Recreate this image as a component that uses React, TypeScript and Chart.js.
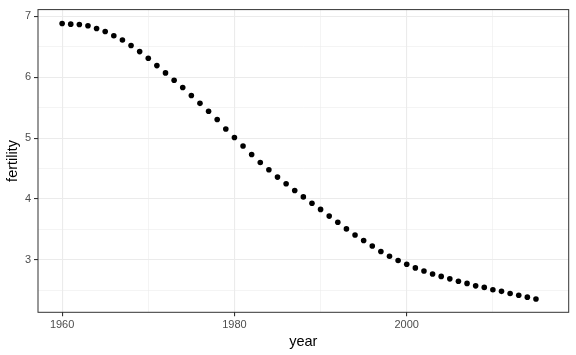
import React, { useEffect, useRef } from "react";
import { Chart, registerables } from "chart.js";

Chart.register(...registerables);

const years: number[] = [];
for (let y = 1960; y <= 2015; y++) years.push(y);

const fertility: number[] = [
  6.88, 6.87, 6.865, 6.845, 6.80, 6.75, 6.68, 6.61, 6.52, 6.42,
  6.31, 6.19, 6.07, 5.95, 5.83, 5.70, 5.57, 5.44, 5.305, 5.15,
  5.01, 4.87, 4.73, 4.60, 4.48, 4.36, 4.25, 4.14, 4.035, 3.93,
  3.83, 3.72, 3.62, 3.51, 3.41, 3.32, 3.23, 3.14, 3.06, 2.99,
  2.93, 2.87, 2.82, 2.77, 2.73, 2.69, 2.65, 2.615, 2.575, 2.55,
  2.51, 2.485, 2.45, 2.42, 2.39, 2.36,
];

const xTicks: number[] = [1960, 1970, 1980, 1990, 2000, 2010];
const xLabels: number[] = [1960, 1980, 2000];
const yTicks: number[] = [2.5, 3, 3.5, 4, 4.5, 5, 5.5, 6, 6.5, 7];
const yLabels: number[] = [3, 4, 5, 6, 7];

const FONT = "'Liberation Sans', Arial, Helvetica, sans-serif";

export default function App() {
  const ref = useRef<HTMLCanvasElement>(null);

  useEffect(() => {
    document.body.style.margin = "0";
    const ctx = ref.current!;
    const borderPlugin = {
      id: "panelBorder",
      afterDraw(chart: any) {
        const { ctx: c, chartArea: a } = chart;
        c.save();
        c.strokeStyle = "#333333";
        c.lineWidth = 1;
        c.strokeRect(a.left, a.top, a.right - a.left, a.bottom - a.top);
        c.restore();
      },
    };
    const isMajorX = (v: number) => xLabels.includes(v);
    const isMajorY = (v: number) => yLabels.includes(v);
    const chart = new Chart(ctx, {
      type: "scatter",
      data: {
        datasets: [
          {
            data: years.map((y, i) => ({ x: y, y: fertility[i] })),
            backgroundColor: "#000000",
            borderColor: "#000000",
            pointRadius: 2.8,
            pointBorderWidth: 0,
          },
        ],
      },
      options: {
        responsive: false,
        animation: false,
        layout: { padding: { top: 6, right: 7.3, left: 0, bottom: 0 } },
        plugins: { legend: { display: false }, tooltip: { enabled: false } },
        scales: {
          x: {
            type: "linear",
            min: 1957.2,
            max: 2018.8,
            afterBuildTicks: (s: any) => {
              s.ticks = xTicks.map((v) => ({ value: v }));
            },
            afterFit: (s: any) => {
              s.height = 42.7;
            },
            border: { display: false },
            grid: {
              color: "#ebebeb",
              lineWidth: (c: any) => (isMajorX(c.tick?.value) ? 1.1 : 0.55),
              tickColor: (c: any) => (isMajorX(c.tick?.value) ? "#333333" : "rgba(0,0,0,0)"),
              tickLength: 4,
            },
            ticks: {
              color: "#4d4d4d",
              font: { family: FONT, size: 11 },
              padding: 2,
              maxRotation: 0,
              autoSkip: false,
              callback: (v: any) => (isMajorX(Number(v)) ? String(v) : ""),
            },
            title: {
              display: true,
              text: "year",
              color: "#000000",
              font: { family: FONT, size: 14.5 },
              padding: { top: 0, bottom: 4 },
            },
          },
          y: {
            type: "linear",
            min: 2.141,
            max: 7.109,
            afterBuildTicks: (s: any) => {
              s.ticks = yTicks.map((v) => ({ value: v }));
            },
            afterFit: (s: any) => {
              s.width = 38;
            },
            border: { display: false },
            grid: {
              color: "#ebebeb",
              lineWidth: (c: any) => (isMajorY(c.tick?.value) ? 1.1 : 0.55),
              tickColor: (c: any) => (isMajorY(c.tick?.value) ? "#333333" : "rgba(0,0,0,0)"),
              tickLength: 4,
            },
            ticks: {
              color: "#4d4d4d",
              font: { family: FONT, size: 11 },
              padding: 3,
              autoSkip: false,
              callback: (v: any) => (isMajorY(Number(v)) ? String(v) : ""),
            },
            title: {
              display: true,
              text: "fertility",
              color: "#000000",
              font: { family: FONT, size: 14.5 },
              padding: { top: 4, bottom: 0 },
            },
          },
        },
      },
      plugins: [borderPlugin],
    } as any);
    return () => chart.destroy();
  }, []);

  return (
    <div style={{ position: "absolute", left: 0, top: 0, width: 576, height: 355, background: "#ffffff" }}>
      <canvas ref={ref} width={576} height={355} style={{ width: 576, height: 355 }} />
    </div>
  );
}
